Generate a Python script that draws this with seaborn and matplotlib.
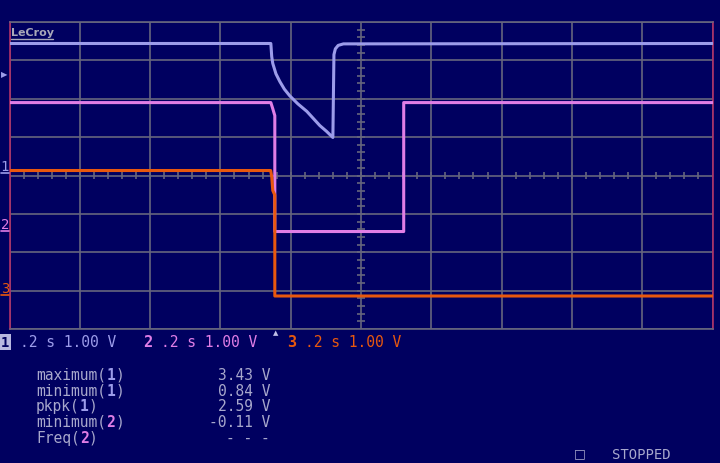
import matplotlib.pyplot as plt
from matplotlib.lines import Line2D
import seaborn as sns
import pandas as pd
import numpy as np

# time in seconds across the 10-division screen (.2 s/div), levels in volts
ch1_time = [0.0, 0.7435, 0.746, 0.749, 0.758, 0.769, 0.782, 0.797, 0.82, 0.846, 0.865,
            0.883, 0.902, 0.920, 0.923, 0.927, 0.935, 0.95, 2.0]
ch1_volts = [3.34, 3.34, 3.0, 2.82, 2.55, 2.35, 2.15, 1.98, 1.77, 1.57, 1.38,
             1.20, 1.05, 0.89, 3.05, 3.20, 3.29, 3.33, 3.34]

ch2_time = [0.0, 0.7435, 0.749, 0.7548, 0.7548, 1.1215, 1.1215, 2.0]
ch2_volts = [3.34, 3.34, 3.18, 3.0, -0.02, -0.02, 3.34, 3.34]

ch3_time = [0.0, 0.743, 0.746, 0.749, 0.7548, 0.7548, 2.0]
ch3_volts = [3.24, 3.24, 3.08, 2.72, 2.6, -0.03, -0.03]

# ground marker of each channel, in divisions from the bottom of the grid
offsets = {"1": 4.10, "2": 2.56, "3": 0.89}
colors = {"1": "#9c9cea", "2": "#e07ee6", "3": "#e8580e"}

meas_labels = ["maximum", "minimum", "pkpk", "minimum", "Freq"]
meas_channels = ["1", "1", "1", "2", "2"]
meas_values = ["3.43 V", "0.84 V", "2.59 V", "-0.11 V", "- - -"]

bg = "#000060"
grid_c = "#66667e"
mono = "DejaVu Sans Mono"

frames = []
for ch, t, v in [("1", ch1_time, ch1_volts), ("2", ch2_time, ch2_volts), ("3", ch3_time, ch3_volts)]:
    d = pd.DataFrame({"time": t, "volts": v})
    d["channel"] = ch
    d["div"] = d["volts"] + offsets[ch]
    frames.append(d)
df = pd.concat(frames, ignore_index=True)

sns.set_style("dark")
fig = plt.figure(figsize=(7.2, 4.64), dpi=100, facecolor=bg)
W, H = 720, 464
ax = fig.add_axes([9.5 / W, 1 - 330 / H, (712.5 - 9.5) / W, (330 - 23) / H])
ax.set_facecolor(bg)

# grid
for x in np.arange(0, 2.01, 0.2):
    ax.axvline(x, color=grid_c, lw=1.2, zorder=1)
for y in range(9):
    ax.axhline(y, color=grid_c, lw=1.2, zorder=1)
# minor ticks on centre axes
ax.hlines(np.arange(0.2, 8, 0.2), 1.0 - 0.012, 1.0 + 0.012, color=grid_c, lw=1.2, zorder=1)
ax.vlines(np.arange(0.04, 2.0, 0.04), 4 - 0.1, 4 + 0.1, color=grid_c, lw=1.2, zorder=1)

sns.lineplot(data=df, x="time", y="div", hue="channel", palette=colors,
             estimator=None, sort=False, lw=2.2, legend=False, ax=ax, zorder=3)

ax.set_xlim(0, 2.0)
ax.set_ylim(0, 8)
ax.set_xticks([])
ax.set_yticks([])
ax.set_xlabel("")
ax.set_ylabel("")
for s in ["top", "bottom"]:
    ax.spines[s].set_color(grid_c)
for s in ["left", "right"]:
    ax.spines[s].set_color("#b03068")
for s in ax.spines.values():
    s.set_linewidth(1.2)


def px(x, y):
    return x / W, 1 - y / H


# LeCroy logo
fig.text(*px(11, 33), "LeCroy", color="#a8a8b8", fontsize=8, fontweight="bold",
         va="center", ha="left", family="DejaVu Sans")
fig.add_artist(Line2D([11 / W, 53 / W], [1 - 39.5 / H] * 2, color="#a8a8b8", lw=1))

# trigger level marker
fig.text(*px(1, 75), "\u25B6", color="#9c9cea", fontsize=6, va="center", ha="left")

# channel ground markers
for ch, ypx in [("1", 167), ("2", 225), ("3", 289)]:
    fig.text(*px(5, ypx), ch, color=colors[ch], fontsize=10, va="center", ha="center", family=mono)
    fig.add_artist(Line2D([1 / W, 9 / W], [1 - (ypx + 7) / H] * 2, color=colors[ch], lw=1.2))

# trigger time marker
fig.text(*px(276, 333), "\u25B2", color="#c0c0e8", fontsize=5, va="center", ha="center")

# channel settings row
fig.text(*px(5, 343), "1", color="#000060", fontsize=10, fontweight="bold", va="center",
         ha="center", family=mono,
         bbox=dict(boxstyle="square,pad=0.1", fc="#b8b8e0", ec="none"))
fig.text(*px(20, 343), ".2 s 1.00 V", color="#9c9cea", fontsize=10.5, va="center", ha="left", family=mono)
fig.text(*px(148, 343), "2", color=colors["2"], fontsize=11, fontweight="bold", va="center", ha="center", family=mono)
fig.text(*px(161, 343), ".2 s 1.00 V", color=colors["2"], fontsize=10.5, va="center", ha="left", family=mono)
fig.text(*px(292, 343), "3", color=colors["3"], fontsize=11, fontweight="bold", va="center", ha="center", family=mono)
fig.text(*px(305, 343), ".2 s 1.00 V", color=colors["3"], fontsize=10.5, va="center", ha="left", family=mono)

# measurements
cw = 8.78
row_y = [380, 396, 411, 427, 443]
label_c = "#a8a8cc"
for lab, ch, val, ypx in zip(meas_labels, meas_channels, meas_values, row_y):
    x0 = 36
    fig.text(*px(x0, ypx), lab + "(", color=label_c, fontsize=10.5, va="baseline", ha="left", family=mono)
    n = len(lab) + 1
    fig.text(*px(x0 + n * cw, ypx), ch, color=colors[ch], fontsize=10.5, fontweight="bold",
             va="baseline", ha="left", family=mono)
    fig.text(*px(x0 + (n + 1) * cw, ypx), ")", color=label_c, fontsize=10.5, va="baseline", ha="left", family=mono)
    fig.text(*px(270, ypx), val, color=label_c, fontsize=10.5, va="baseline", ha="right", family=mono)

# status
fig.text(*px(580, 454), "\u25A1", color="#a8a8cc", fontsize=9, va="center", ha="center", family="DejaVu Sans")
fig.text(*px(612, 455), "STOPPED", color="#a8a8cc", fontsize=10, va="center", ha="left", family=mono)

fig.savefig("out.png", dpi=100, facecolor=bg)
plt.close(fig)
